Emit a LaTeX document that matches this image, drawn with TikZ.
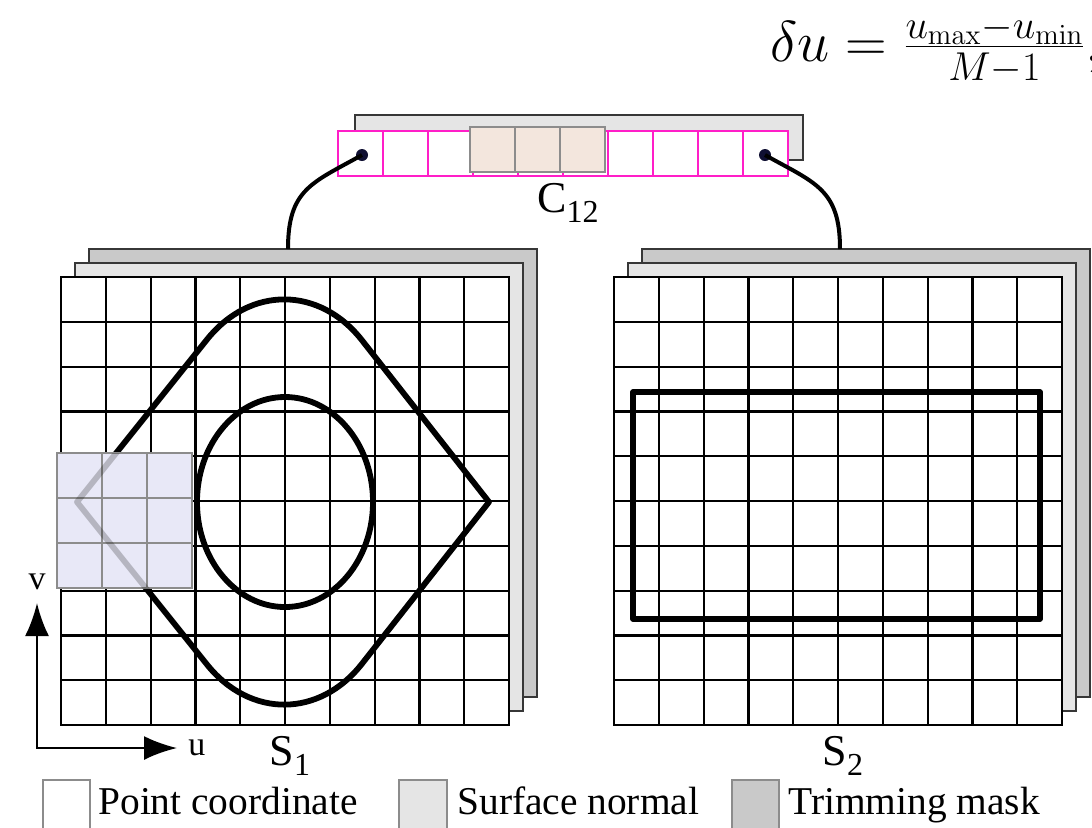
\documentclass[tikz,border=0pt]{standalone}
\usepackage{fix-cm}
\usepackage[no-math]{fontspec}
\setmainfont{Liberation Serif}
\usetikzlibrary{arrows.meta,positioning}
\definecolor{NormalGray}{RGB}{229,229,229}
\definecolor{MaskGray}{RGB}{201,201,201}
\definecolor{FrameGray}{RGB}{55,55,55}
\definecolor{BoxGray}{RGB}{140,140,140}
\definecolor{CellMagenta}{RGB}{255,30,200}
\definecolor{PatchPeach}{RGB}{243,230,221}
\definecolor{PatchLavender}{RGB}{232,232,247}
\definecolor{DotNavy}{RGB}{15,15,50}
\newcommand{\lowsub}[1]{\raisebox{-5pt}{\fontsize{16}{16}\selectfont #1}}
\newcommand{\trimloop}{(77,502) -- (206.9,339.6)
  .. controls (250,285.7) and (319.5,286) .. (362.1,340.4) -- (489,502)
  -- (362.1,663.6) .. controls (319.5,718) and (250,718.3) .. (206.9,664.4) -- cycle}

\begin{document}
\begin{tikzpicture}[x=0.5pt,y=-0.5pt,>=Latex,
    masklayer/.style={fill=MaskGray,draw=FrameGray,line width=0.9pt},
    normallayer/.style={fill=NormalGray,draw=FrameGray,line width=0.9pt},
    gridline/.style={line width=1.1pt,line cap=rect},
    trimline/.style={line width=2.9pt,line join=round},
    ccell/.style={draw=CellMagenta,line width=0.9pt,fill=white},
    pcell/.style={draw=BoxGray,line width=0.9pt,fill=PatchPeach},
    lcell/.style={draw=BoxGray,line width=0.9pt,fill=PatchLavender},
    dot/.style={circle,fill=DotNavy,inner sep=0pt,minimum size=6pt},
    link/.style={line width=2pt},
    axis/.style={line width=1.2pt,{Latex[length=16.5pt,width=12pt]}-{Latex[length=16.5pt,width=12pt]}},
    legendbox/.style={draw=BoxGray,line width=0.9pt},
    legendtext/.style={anchor=base west,inner sep=0pt,font=\fontsize{19.7}{22}\selectfont},
    surfname/.style={anchor=base,inner sep=0pt,font=\fontsize{22}{24}\selectfont}]
  \useasboundingbox (0,0) rectangle (1092,827);

  % spacing formula
  \node[anchor=base west,inner sep=0pt,font=\fontsize{28.8}{34}\selectfont] (spacing)
    at (770,61) {$\delta u = \frac{u_{\max}-u_{\min}}{M-1},$};

  % curve C12
  \draw[normallayer] (355,115) rectangle (803,160);
  \foreach \k in {0,...,9}
    \draw[ccell] (338+\k*45,131) rectangle ++(45,45);
  \foreach \k in {0,1,2}
    \draw[pcell] (470+\k*45,127) rectangle ++(45,45);
  \node[surfname] (c12label) at (568,212) {C\lowsub{12}};

  % surfaces S1, S2
  \foreach \sx in {61,614}{
    \draw[masklayer] (\sx+28,249) rectangle ++(448,448);
    \draw[normallayer] (\sx+14,263) rectangle ++(448,448);
    \fill[white] (\sx,277) rectangle ++(448,448);
    \foreach \k in {0,...,10}{
      \draw[gridline] (\sx+\k*44.8,277) -- ++(0,448);
      \draw[gridline] (\sx,277+\k*44.8) -- ++(448,0);
    }
  }
  \coordinate (s1top) at (288,249);
  \coordinate (s2top) at (840,249);
  \node[surfname] (s1label) at (290,765) {S\lowsub{1}};
  \node[surfname] (s2label) at (843,765) {S\lowsub{2}};

  % trimming curves
  \draw[trimline] \trimloop;
  \draw[trimline] (285,502) ellipse [x radius=88,y radius=105];
  \draw[trimline] (633,392) rectangle (1040,619);

  % patch on S1
  \foreach \i in {0,1,2}
    \foreach \j in {0,1,2}
      \draw[lcell] (57+\i*45,453+\j*45) rectangle ++(45,45);
  \begin{scope}
    \clip (57,453) rectangle (192,588);
    \draw[trimline,draw opacity=0.22] \trimloop;
  \end{scope}

  % links from C12 to the surfaces
  \node[dot] (c12a) at (362,155) {};
  \node[dot] (c12b) at (765,155) {};
  \draw[link] (c12a.center) .. controls +(-50,28) and +(0,-60) .. (s1top);
  \draw[link] (c12b.center) .. controls +(50,28) and +(0,-60) .. (s2top);

  % uv axes
  \coordinate (origin) at (37,748);
  \coordinate (vtip) at (37,603);
  \coordinate (utip) at (177,748);
  \draw[axis] (vtip) -- (origin) -- (utip);
  \node[above=6.5pt of vtip,inner sep=0pt,font=\fontsize{17}{20}\selectfont] (vlabel) {v};
  \node[right=5.5pt of utip,inner sep=0pt,font=\fontsize{17}{20}\selectfont] (ulabel) {u};

  % legend
  \draw[legendbox,fill=white] (43,780) rectangle (90,840);
  \node[legendtext] (lgpoint) at (98,814) {Point coordinate};
  \draw[legendbox,fill=NormalGray] (399,780) rectangle (447,840);
  \node[legendtext] (lgnormal) at (457,814) {Surface normal};
  \draw[legendbox,fill=MaskGray] (732,780) rectangle (779,840);
  \node[legendtext] (lgmask) at (788,814) {Trimming mask};
\end{tikzpicture}
\end{document}
